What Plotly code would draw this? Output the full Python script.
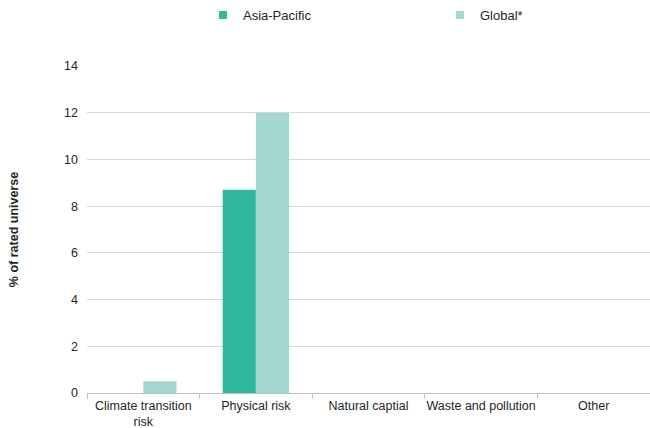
import plotly.graph_objects as go

categories = ["Climate transition<br>risk", "Physical risk", "Natural captial",
              "Waste and pollution", "Other"]
asia_pacific = [0, 8.7, 0, 0, 0]
global_vals = [0.5, 12, 0, 0, 0]
y_ticks = [0, 2, 4, 6, 8, 10, 12, 14]

AP_COLOR = "#31b9a0"
GL_COLOR = "#a3d8d1"
FONT = "Liberation Sans, Arial, sans-serif"

fig = go.Figure()
fig.add_trace(go.Bar(x=categories, y=asia_pacific, name="Asia-Pacific",
                     marker=dict(color=AP_COLOR, line=dict(width=0)),
                     showlegend=False))
fig.add_trace(go.Bar(x=categories, y=global_vals, name="Global*",
                     marker=dict(color=GL_COLOR, line=dict(width=0)),
                     showlegend=False))
# legend entries with small square swatches
for name, col in [("Asia-Pacific", AP_COLOR), ("Global*", GL_COLOR)]:
    fig.add_trace(go.Scatter(x=[None], y=[None], mode="markers", name=name,
                             marker=dict(symbol="square", size=8, color=col)))

fig.update_layout(
    width=650, height=428,
    margin=dict(l=87, r=0, t=66, b=35, autoexpand=False),
    paper_bgcolor="white", plot_bgcolor="white",
    font=dict(family=FONT, size=13, color="#262626"),
    barmode="group", bargap=0.41, bargroupgap=0,
    legend=dict(orientation="h", x=0.206, xanchor="left", y=1, yref="container",
                yanchor="top", entrywidth=192, entrywidthmode="pixels",
                itemwidth=30, font=dict(size=13, color="#262626")),
    xaxis=dict(showline=True, linecolor="#bfbfbf", linewidth=1,
               ticks="outside", tickson="boundaries", ticklen=5,
               tickcolor="#bfbfbf", showgrid=False, tickangle=0,
               ticklabelstandoff=1,
               automargin=False, tickfont=dict(size=12.5)),
    yaxis=dict(range=[0, 14], tickvals=y_ticks, showgrid=True,
               gridcolor="#d9d9d9", gridwidth=1, zeroline=False,
               automargin=False,
               ticklabelstandoff=8, tickfont=dict(size=12.5),
               title=dict(text="<b>% of rated universe</b>",
                          font=dict(size=12.5), standoff=42)),
)

fig.write_html("out.html")
